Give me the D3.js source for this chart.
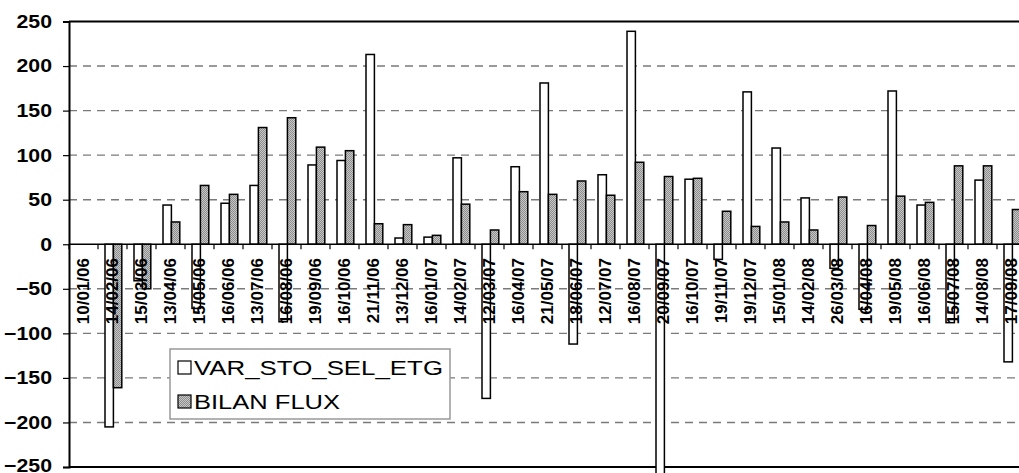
<!DOCTYPE html>
<html>
<head>
<meta charset="utf-8">
<script src="https://cdn.jsdelivr.net/npm/d3@7"></script>
<style>
  html, body { margin: 0; padding: 0; background: #fff; }
  svg { display: block; }
</style>
</head>
<body>
<script>
const categories = ["10/01/06","14/02/06","15/03/06","13/04/06","15/05/06","16/06/06","13/07/06","16/08/06","19/09/06","16/10/06","21/11/06","13/12/06","16/01/07","14/02/07","12/03/07","16/04/07","21/05/07","18/06/07","12/07/07","16/08/07","20/09/07","16/10/07","19/11/07","19/12/07","15/01/08","14/02/08","26/03/08","16/04/08","19/05/08","16/06/08","15/07/08","14/08/08","17/09/08"];
const varSto = [null,-205,-41,44,-72,46,66,-87,89,94,213,7,8,97,-173,87,181,-112,78,239,-275,73,-17,171,108,52,-27,-73,172,44,-88,72,-132];
const bilanFlux = [null,-161,-50,25,66,56,131,142,109,105,23,22,10,45,16,59,56,71,55,92,76,74,37,20,25,16,53,21,54,47,88,88,39];
const seriesNames = ["VAR_STO_SEL_ETG", "BILAN FLUX"];
const yTicks = [-250,-200,-150,-100,-50,0,50,100,150,200,250];

(function () {
const W = 1019, H = 473;
const pLeft = 69, pRight = 69 + 33 * 29, pTop = 21.5, pBottom = 467;
const FONT = "'Liberation Sans', Arial, sans-serif";

const svg = d3.select("body").append("svg").attr("width", W).attr("height", H);

const defs = svg.append("defs");
const pat = defs.append("pattern").attr("id", "dots").attr("width", 2).attr("height", 2)
  .attr("patternUnits", "userSpaceOnUse");
pat.append("rect").attr("width", 2).attr("height", 2).attr("fill", "#c8c8c8");
pat.append("rect").attr("x", 0).attr("y", 0).attr("width", 1).attr("height", 1).attr("fill", "#8c8c8c");
pat.append("rect").attr("x", 1).attr("y", 1).attr("width", 1).attr("height", 1).attr("fill", "#8c8c8c");

const y = d3.scaleLinear().domain([-250, 250]).range([pBottom, pTop]);
const x = d3.scaleBand().domain(categories).range([pLeft, pRight]).padding(0);
const x1 = d3.scaleBand().domain(seriesNames).range([7, 23.8]).padding(0);

// gridlines
svg.append("g").selectAll("line")
  .data(yTicks.filter(v => v !== 0 && Math.abs(v) !== 250))
  .join("line")
  .attr("x1", pLeft).attr("x2", W)
  .attr("y1", d => y(d)).attr("y2", d => y(d))
  .attr("stroke", "#7a7a7a").attr("stroke-width", 1.4)
  .attr("stroke-dasharray", "8,6");

// border lines
svg.append("line").attr("x1", pLeft).attr("x2", W).attr("y1", pTop).attr("y2", pTop)
  .attr("stroke", "#000").attr("stroke-width", 2);
svg.append("line").attr("x1", pLeft).attr("x2", W).attr("y1", pBottom).attr("y2", pBottom)
  .attr("stroke", "#000").attr("stroke-width", 2);

// y axis
const yAxis = d3.axisLeft(y).tickValues(yTicks).tickSize(6).tickPadding(11);
const gy = svg.append("g").attr("transform", `translate(${pLeft},0)`).call(yAxis);
gy.select(".domain").attr("stroke", "#000").attr("stroke-width", 2);
gy.selectAll(".tick line").attr("stroke", "#000").attr("stroke-width", 1.2);
gy.selectAll(".tick text")
  .attr("font-family", FONT).attr("font-size", 18.5).attr("font-weight", "bold")
  .attr("fill", "#000")
  .attr("dy", d => d === -250 ? "0.22em" : "0.32em");
gy.selectAll(".tick text").each(function() {
  const len = this.getComputedTextLength();
  d3.select(this).attr("textLength", len * 1.15).attr("lengthAdjust", "spacingAndGlyphs");
});

// bars
const data = categories.map((c, i) => ({ c, vals: [varSto[i], bilanFlux[i]] }));
const groups = svg.append("g").selectAll("g").data(data).join("g")
  .attr("transform", d => `translate(${x(d.c)},0)`);
groups.selectAll("rect")
  .data(d => d.vals.map((v, k) => ({ k, v, name: seriesNames[k] })).filter(e => e.v !== null))
  .join("rect")
  .attr("x", e => x1(e.name))
  .attr("width", x1.bandwidth())
  .attr("y", e => y(Math.max(0, e.v)))
  .attr("height", e => Math.abs(y(e.v) - y(0)))
  .attr("fill", e => e.k === 0 ? "#fff" : "url(#dots)")
  .attr("stroke", "#000").attr("stroke-width", 1.5);

// zero axis with category ticks
svg.append("line").attr("x1", pLeft).attr("x2", W).attr("y1", y(0)).attr("y2", y(0))
  .attr("stroke", "#000").attr("stroke-width", 1.5);
svg.append("g").selectAll("line").data(d3.range(categories.length + 1))
  .join("line")
  .attr("x1", i => pLeft + i * x.step()).attr("x2", i => pLeft + i * x.step())
  .attr("y1", y(0)).attr("y2", y(0) + 5)
  .attr("stroke", "#000").attr("stroke-width", 1.2);

// category labels
svg.append("g").selectAll("text").data(categories).join("text")
  .attr("transform", d => `translate(${x(d) + x.bandwidth() / 2 - 0.5},258) rotate(-90)`)
  .attr("text-anchor", "end")
  .attr("dy", "0.36em")
  .attr("font-family", FONT).attr("font-size", 17).attr("font-weight", "bold")
  .attr("fill", "#000")
  .text(d => d);

// legend
const lg = svg.append("g");
lg.append("rect").attr("x", 170).attr("y", 349).attr("width", 280).attr("height", 70)
  .attr("fill", "#fff").attr("stroke", "#999").attr("stroke-width", 1.5);
const legendItems = lg.selectAll("g").data(seriesNames).join("g")
  .attr("transform", (d, i) => `translate(178,${361 + i * 34})`);
legendItems.append("rect").attr("width", 13).attr("height", 13)
  .attr("fill", (d, i) => i === 0 ? "#fff" : "url(#dots)")
  .attr("stroke", "#000").attr("stroke-width", 1.2);
legendItems.append("text")
  .attr("x", 16).attr("y", 14)
  .attr("font-family", FONT).attr("font-size", 20)
  .attr("fill", "#000")
  .attr("textLength", (d, i) => i === 0 ? 249 : 146)
  .attr("lengthAdjust", "spacingAndGlyphs")
  .text(d => d);
})();
</script>
</body>
</html>
